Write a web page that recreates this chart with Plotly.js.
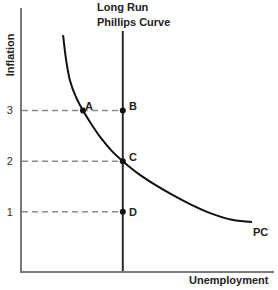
<!DOCTYPE html>
<html>
<head>
<meta charset="utf-8">
<script src="https://cdn.plot.ly/plotly-3.0.1.min.js"></script>
<style>
html,body{margin:0;padding:0;background:#fff;}
#chart{width:278px;height:290px;}
</style>
</head>
<body>
<div id="chart"></div>
<script>
// ---- data ----
var pcX = [1.63, 1.75, 1.90, 2.14, 2.42, 2.78, 3.13, 3.57, 4.0, 4.68, 5.99, 7.34, 8.37, 9.13];
var pcY = [4.49, 4.00, 3.60, 3.27, 3.0, 2.71, 2.46, 2.20, 2.0, 1.73, 1.33, 1.00, 0.84, 0.80];
var lrpcX = 4;
var lrpcTop = 4.57;
var inflationLevels = [1, 2, 3];
var tickLabels = ['1', '2', '3'];
var pointLabels = ['A', 'B', 'C', 'D'];
var pointX = [2.42, 4, 4, 4];
var pointY = [3, 3, 2, 1];
var titleLines = ['Long Run', 'Phillips Curve'];
var xTitle = 'Unemployment';
var yTitle = 'Inflation';
var curveLabel = 'PC';

var yMin = -0.168, yMax = 5.025;
var bold = 'Liberation Sans, Arial, sans-serif';

var traces = [];
// dashed reference lines
inflationLevels.forEach(function(v){
  traces.push({x:[0, lrpcX], y:[v, v], mode:'lines', hoverinfo:'skip',
    line:{color:'#8a8a8a', width:1.5, dash:'6px,4px'}});
});
// long run Phillips curve
traces.push({x:[lrpcX, lrpcX], y:[yMin, lrpcTop], mode:'lines', hoverinfo:'skip',
  line:{color:'#2b2b2b', width:2}});
// short run Phillips curve
traces.push({x:pcX, y:pcY, mode:'lines', hoverinfo:'skip',
  line:{color:'#111', width:2, shape:'spline', smoothing:0.8}});
// points
traces.push({x:pointX, y:pointY, mode:'markers', hoverinfo:'skip',
  marker:{color:'#111', size:6}});

var shifts = {A:[6.5,4.5], B:[10,5], C:[10,4], D:[10,0]};
var annotations = pointLabels.map(function(l, i){
  return {x:pointX[i], y:pointY[i], xref:'x', yref:'y', text:'<b>'+l+'</b>',
    showarrow:false, xshift:shifts[l][0], yshift:shifts[l][1],
    xanchor:'center', yanchor:'middle',
    font:{family:bold, size:11, color:'#222'}};
});
annotations.push({x:pcX[pcX.length-1], y:pcY[pcY.length-1], xref:'x', yref:'y',
  text:'<b>'+curveLabel+'</b>', showarrow:false, xshift:8, yshift:-10,
  xanchor:'center', yanchor:'middle',
  font:{family:bold, size:11, color:'#222'}});
titleLines.forEach(function(t, i){
  annotations.push({x:0.2897, y:1.004 - i*0.057, xref:'paper', yref:'paper',
    xanchor:'left', yanchor:'middle', align:'left', text:'<b>'+t+'</b>', showarrow:false,
    font:{family:bold, size:11, color:'#222'}});
});
annotations.push({x:0.821, y:-0.034, xref:'paper', yref:'paper', xanchor:'center', yanchor:'middle',
  text:'<b>'+xTitle+'</b>', showarrow:false, font:{family:bold, size:11, color:'#222'}});
annotations.push({x:-0.0476, y:0.82, xref:'paper', yref:'paper', xanchor:'center', yanchor:'middle',
  textangle:-90, text:'<b>'+yTitle+'</b>', showarrow:false, font:{family:bold, size:11, color:'#222'}});

var layout = {
  width:278, height:290,
  margin:{l:22, r:4, t:8, b:19, pad:0},
  paper_bgcolor:'#fff', plot_bgcolor:'#fff',
  showlegend:false,
  xaxis:{range:[0,10], showgrid:false, zeroline:false, showticklabels:false,
    showline:true, linecolor:'#7a7a7a', linewidth:2, ticks:'', fixedrange:true},
  yaxis:{range:[yMin,yMax], showgrid:false, zeroline:false, showline:true,
    linecolor:'#7a7a7a', linewidth:2, ticks:'', tickvals:inflationLevels, ticktext:tickLabels,
    ticklabelstandoff:5, tickfont:{family:'Liberation Sans, Arial, sans-serif', size:11, color:'#333'},
    fixedrange:true},
  annotations:annotations
};
Plotly.newPlot('chart', traces, layout, {displayModeBar:false, staticPlot:true});
</script>
</body>
</html>
